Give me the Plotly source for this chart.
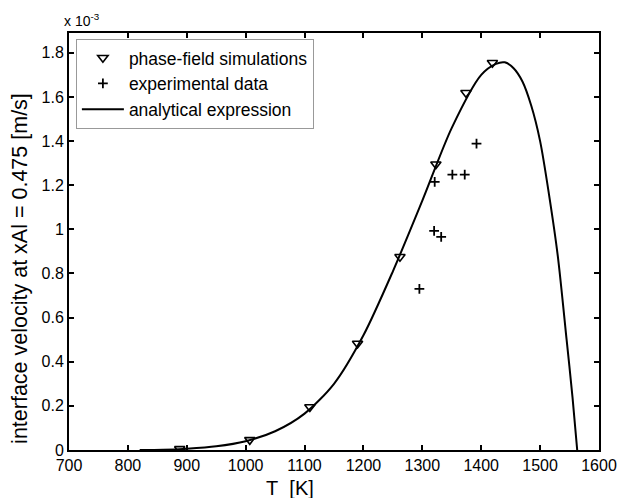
import plotly.graph_objects as go

# phase-field simulations
sim_T = [888, 1007, 1109, 1190, 1262, 1323, 1374, 1419]
sim_v = [0.005, 0.046, 0.195, 0.483, 0.876, 1.295, 1.619, 1.755]

# experimental data
exp_T = [1295, 1320, 1321, 1332, 1351, 1372, 1392]
exp_v = [0.73, 0.993, 1.215, 0.966, 1.248, 1.248, 1.389]

# analytical expression
ana_T = [820, 860, 900, 950, 1000, 1050, 1100, 1150, 1200, 1250, 1300, 1350,
         1400, 1425, 1440, 1455, 1470, 1485, 1500, 1515, 1530, 1545, 1555, 1563]
ana_v = [0, 0.001, 0.006, 0.017, 0.04, 0.085, 0.165, 0.3, 0.52, 0.81, 1.13, 1.46,
         1.70, 1.75, 1.757, 1.73, 1.67, 1.56, 1.40, 1.16, 0.88, 0.50, 0.24, 0]

x_ticks = [700, 800, 900, 1000, 1100, 1200, 1300, 1400, 1500, 1600]
y_ticks = [0, 0.2, 0.4, 0.6, 0.8, 1.0, 1.2, 1.4, 1.6, 1.8]
y_tick_labels = ["0", "0.2", "0.4", "0.6", "0.8", "1", "1.2", "1.4", "1.6", "1.8"]

FONT = "Liberation Sans, Arial, sans-serif"

fig = go.Figure()
fig.add_trace(go.Scatter(
    x=sim_T, y=sim_v, mode="markers", name="phase-field simulations",
    marker=dict(symbol="triangle-down-open", size=9, color="black",
                line=dict(width=1.6, color="black")),
))
fig.add_trace(go.Scatter(
    x=exp_T, y=exp_v, mode="markers", name="experimental data",
    marker=dict(symbol="cross-thin", size=7, color="black",
                line=dict(width=1.8, color="black")),
))
fig.add_trace(go.Scatter(
    x=ana_T, y=ana_v, mode="lines", name="analytical expression",
    line=dict(color="black", width=2, shape="spline", smoothing=0.8),
))

fig.update_layout(
    width=617, height=498,
    margin=dict(l=69, r=18, t=33, b=48),
    paper_bgcolor="white", plot_bgcolor="white",
    font=dict(family=FONT, size=16, color="black"),
    showlegend=True,
    legend=dict(x=0.013, y=0.986, xanchor="left", yanchor="top",
                bordercolor="#999999", borderwidth=1, bgcolor="white",
                font=dict(size=17.5), tracegroupgap=0, itemwidth=42),
    xaxis=dict(range=[700, 1600], tickvals=x_ticks, ticks="inside", ticklen=5,
               tickwidth=1.5, tickcolor="black", showline=True, linecolor="black",
               linewidth=2, mirror="ticks", showgrid=False, zeroline=False,
               automargin=False, tickfont=dict(size=16)),
    yaxis=dict(range=[0, 1.89], tickvals=y_ticks, ticktext=y_tick_labels,
               ticks="inside", ticklen=5, tickwidth=1.5, tickcolor="black",
               showline=True, linecolor="black", linewidth=2, mirror="ticks",
               showgrid=False, zeroline=False, automargin=False,
               tickfont=dict(size=16)),
)

# axis titles placed as in the reference
fig.add_annotation(x=0.4167, y=-0.09, xref="paper", yref="paper",
                   xanchor="center", yanchor="middle", showarrow=False,
                   text="T\u00a0\u00a0[K]", font=dict(size=20, color="black"))
fig.add_annotation(x=-0.093, y=0.436, xref="paper", yref="paper",
                   xanchor="center", yanchor="middle", showarrow=False,
                   textangle=-90,
                   text="interface velocity at xAl = 0.475 [m/s]",
                   font=dict(size=21.5, color="black"))

fig.add_annotation(x=0, y=1, xref="paper", yref="paper", xanchor="left",
                   yanchor="bottom", xshift=-7, yshift=2, showarrow=False,
                   text="x 10<sup>-3</sup>", font=dict(size=14, color="black"))

fig.write_html(
    "out.html",
    config={"displayModeBar": False},
    post_script="document.body.style.margin='0';document.body.style.overflow='hidden';",
)
